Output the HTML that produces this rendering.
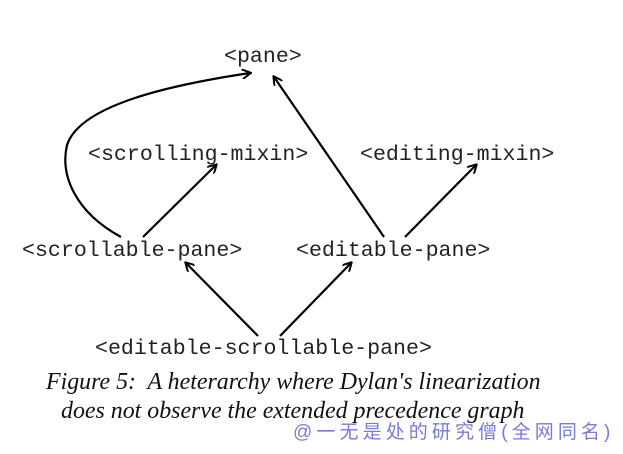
<!DOCTYPE html>
<html><head><meta charset="utf-8"><style>
body{margin:0;background:#fff;width:623px;height:454px;position:relative;overflow:hidden}
.m{position:absolute;font-family:"Liberation Mono",monospace;font-size:21.6px;line-height:1;color:#222;white-space:pre}
.c{position:absolute;font-family:"Liberation Serif",serif;font-style:italic;font-size:23.9px;line-height:1;color:#111;white-space:pre}
.w{position:absolute;font-family:"Liberation Sans","Noto Sans CJK SC",sans-serif;font-size:19px;color:#7a7ad8;white-space:pre;line-height:1;letter-spacing:4.1px}
</style></head><body>
<svg width="623" height="454" style="position:absolute;left:0;top:0">
<defs><marker id="a" markerWidth="10" markerHeight="10" refX="8" refY="5" orient="auto" markerUnits="userSpaceOnUse"><path d="M0,0 L9,5 L0,10" fill="none" stroke="#000" stroke-width="2"/></marker></defs>
<g stroke="#000" stroke-width="2.2" fill="none" marker-end="url(#a)">
<path d="M121,237 C75,212 60,175 67,145 C80,105 170,85 250,73"/>
<line x1="143" y1="237" x2="216" y2="165"/>
<line x1="384" y1="237" x2="274" y2="77"/>
<line x1="405" y1="237" x2="476" y2="165"/>
<line x1="258" y1="336" x2="186" y2="263"/>
<line x1="280" y1="336" x2="351" y2="263"/>
</g></svg>
<div class="m" style="left:224px;top:47px">&lt;pane&gt;</div>
<div class="m" style="left:88px;top:145px">&lt;scrolling-mixin&gt;</div>
<div class="m" style="left:360px;top:145px">&lt;editing-mixin&gt;</div>
<div class="m" style="left:22px;top:241px">&lt;scrollable-pane&gt;</div>
<div class="m" style="left:296px;top:241px">&lt;editable-pane&gt;</div>
<div class="m" style="left:95px;top:339px">&lt;editable-scrollable-pane&gt;</div>
<div class="c" style="left:46px;top:371px">Figure 5:  A heterarchy where Dylan's linearization</div>
<div class="c" style="left:61px;top:400px">does not observe the extended precedence graph</div>
<div class="w" style="left:293px;top:423px">@一无是处的研究僧(全网同名)</div>
</body></html>
